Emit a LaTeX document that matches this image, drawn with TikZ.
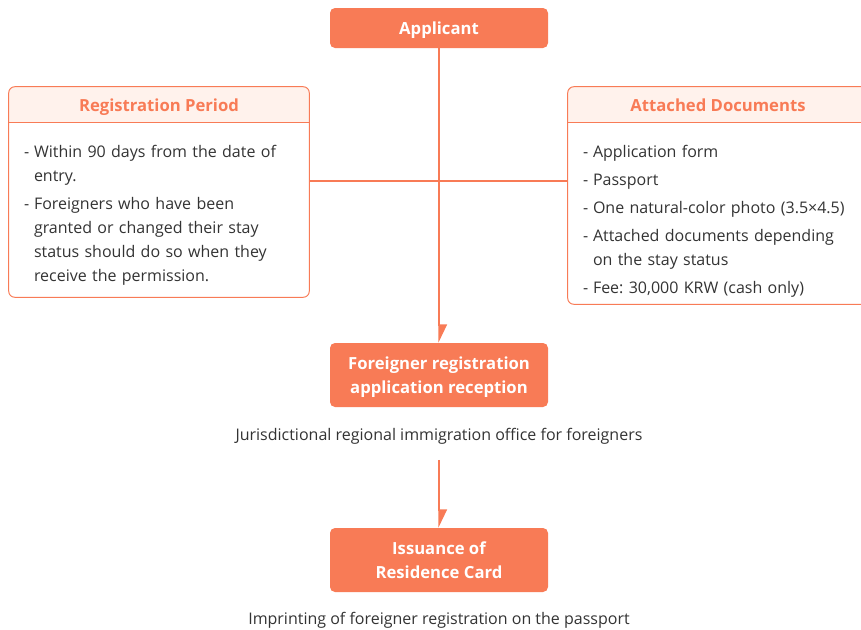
\documentclass[tikz,border=0pt]{standalone}
\usepackage{fontspec}
\setmainfont{Open Sans}
\usetikzlibrary{arrows.meta,positioning,calc}

\newlength\unitpx
\setlength\unitpx{0.75pt}
\definecolor{flowOrange}{HTML}{F87B56}
\definecolor{headPeach}{HTML}{FFF2EC}
\definecolor{bodyGray}{HTML}{333333}
\newcommand\dashitem[1]{\noindent\llap{\makebox[10\unitpx][l]{-}}#1\par}
\frenchspacing

\tikzset{
  stepbox/.style={fill=flowOrange, text=white, font=\fontsize{12.5}{18}\selectfont\bfseries,
    rounded corners=5\unitpx, minimum width=218\unitpx, align=center, inner sep=0pt,
    text depth=0pt},
  infoarea/.style={minimum width=300\unitpx, inner sep=0pt},
  infoframe/.style={draw=flowOrange, line width=1\unitpx, rounded corners=6\unitpx},
  headtext/.style={text=flowOrange, font=\fontsize{12.5}{15}\selectfont\bfseries, text depth=0pt},
  bodytext/.style={text=bodyGray, text width=#1, inner sep=0pt, align=left,
    font=\fontsize{12}{18}\selectfont\frenchspacing},
  notetext/.style={text=bodyGray, font=\fontsize{12}{15}\selectfont},
  flowline/.style={draw=flowOrange, line width=1.2\unitpx},
  flowarrow/.style={flowline, -{Triangle[harpoon, length=12.75pt, width=12pt]}},
}

\begin{document}
\begin{tikzpicture}[x=1\unitpx, y=-1\unitpx]
  \useasboundingbox (0,0) rectangle (861,629);
  \clip (0,0) rectangle (861,629);

  % main steps
  \node[stepbox, minimum height=40\unitpx] (applicant) at (439,28) {Applicant};
  \node[stepbox, minimum height=64\unitpx] (reception) at (439,375)
    {Foreigner registration\\application reception};
  \node[notetext] (office) at (439,436)
    {Jurisdictional regional immigration office for foreigners};
  \node[stepbox, minimum height=64\unitpx] (issuance) at (439,560)
    {Issuance of\\Residence Card};
  \node[notetext] (imprint) at (439,620)
    {Imprinting of foreigner registration on the passport};

  % registration period
  \node[infoarea, minimum height=210\unitpx] (period) at (159,192) {};
  \begin{scope}
    \clip[rounded corners=6\unitpx] (period.north west) rectangle (period.south east);
    \fill[headPeach] (period.north west) rectangle ($(period.north east)+(0,36)$);
  \end{scope}
  \draw[flowline] ($(period.north west)+(0,36)$) -- ($(period.north east)+(0,36)$);
  \draw[infoframe] (period.north west) rectangle (period.south east);
  \node[headtext] (periodhead) at ($(period.north)+(0,18.5)$) {Registration Period};
  \node[bodytext=280\unitpx, anchor=north west] (periodtext) at ($(period.north west)+(15,58)$)
    {\setlength{\leftskip}{10\unitpx}\setlength{\parskip}{4\unitpx}%
     \dashitem{Within 90 days from the date of\newline entry.}%
     \dashitem{Foreigners who have been\newline granted or changed their stay\newline
       status should do so when they\newline receive the permission.}};

  % attached documents
  \node[infoarea, minimum height=217\unitpx] (docs) at (718,195.5) {};
  \begin{scope}
    \clip[rounded corners=6\unitpx] (docs.north west) rectangle (docs.south east);
    \fill[headPeach] (docs.north west) rectangle ($(docs.north east)+(0,36)$);
  \end{scope}
  \draw[flowline] ($(docs.north west)+(0,36)$) -- ($(docs.north east)+(0,36)$);
  \draw[infoframe] (docs.north west) rectangle (docs.south east);
  \node[headtext] (docshead) at ($(docs.north)+(0,18.5)$) {Attached Documents};
  \node[bodytext=280\unitpx, anchor=north west] (docstext) at ($(docs.north west)+(15,58)$)
    {\setlength{\leftskip}{10\unitpx}\setlength{\parskip}{4\unitpx}%
     \dashitem{Application form}%
     \dashitem{Passport}%
     \dashitem{One natural-color photo (3.5×4.5)}%
     \dashitem{Attached documents depending\newline on the stay status}%
     \dashitem{Fee: 30,000 KRW (cash only)}};

  % connectors
  \coordinate (junction) at (439,181);
  \draw[flowline] (period.east |- junction) -- (docs.west |- junction);
  \draw[flowarrow] (applicant) -- (reception);
  \draw[flowarrow, shorten <=11\unitpx] (office) -- (issuance);
\end{tikzpicture}
\end{document}
